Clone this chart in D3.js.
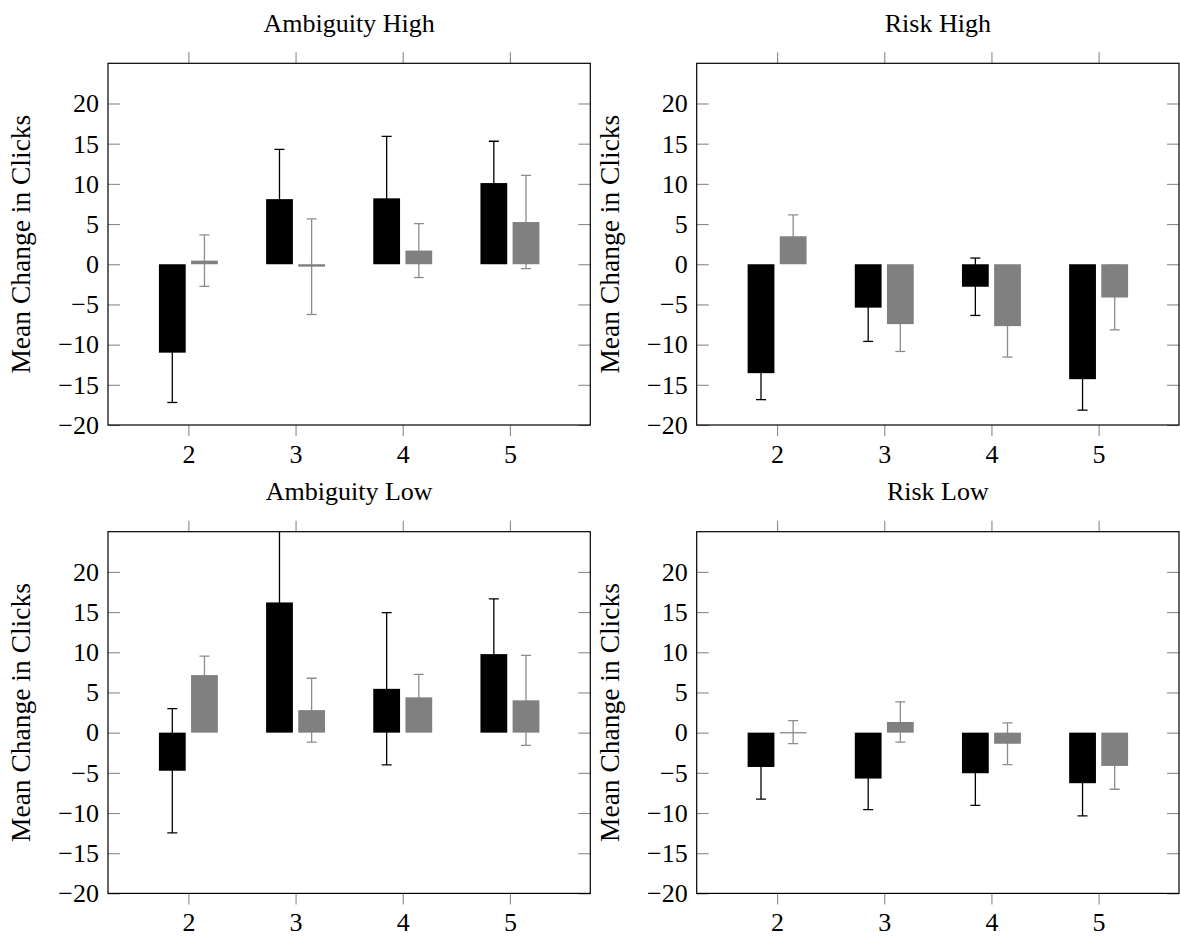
<!DOCTYPE html>
<html>
<head>
<meta charset="utf-8">
<script src="https://cdn.jsdelivr.net/npm/d3@7"></script>
<style>
  body { margin: 0; background: #fff; }
  text { font-family: "Liberation Serif", "Times New Roman", serif; fill: #000; }
</style>
</head>
<body>
<svg id="chart" width="1180" height="938"></svg>
<script>
// categories / ticks
const groups = [2, 3, 4, 5];
const yTicks = [-20, -15, -10, -5, 0, 5, 10, 15, 20];
const titles = ['Ambiguity High', 'Risk High', 'Ambiguity Low', 'Risk Low'];

// series values (black = first bar, grey = second bar), symmetric error half-widths
const ambHighBlack    = [-11.0, 8.1, 8.2, 10.1];
const ambHighBlackErr = [6.2, 6.2, 7.7, 5.2];
const ambHighGrey     = [0.45, -0.3, 1.7, 5.25];
const ambHighGreyErr  = [3.2, 5.95, 3.35, 5.8];

const riskHighBlack    = [-13.55, -5.4, -2.8, -14.3];
const riskHighBlackErr = [3.3, 4.2, 3.57, 3.85];
const riskHighGrey     = [3.48, -7.45, -7.7, -4.14];
const riskHighGreyErr  = [2.65, 3.4, 3.85, 4.02];

const ambLowBlack    = [-4.74, 16.2, 5.45, 9.77];
const ambLowBlackErr = [7.74, 10.0, 9.47, 6.88];
const ambLowGrey     = [7.16, 2.8, 4.39, 4.02];
const ambLowGreyErr  = [2.36, 3.97, 2.86, 5.6];

const riskLowBlack    = [-4.27, -5.71, -5.05, -6.29];
const riskLowBlackErr = [4.0, 3.86, 4.0, 4.06];
const riskLowGrey     = [0.06, 1.33, -1.38, -4.14];
const riskLowGreyErr  = [1.43, 2.5, 2.6, 2.9];

const panelData = [
  [ambHighBlack, ambHighBlackErr, ambHighGrey, ambHighGreyErr],
  [riskHighBlack, riskHighBlackErr, riskHighGrey, riskHighGreyErr],
  [ambLowBlack, ambLowBlackErr, ambLowGrey, ambLowGreyErr],
  [riskLowBlack, riskLowBlackErr, riskLowGrey, riskLowGreyErr]
];

// layout
const svg = d3.select('#chart');
const pw = 482.3, ph = 361.7;
const origins = [[108, 63.3], [696.7, 63.3], [108, 531.7], [696.7, 531.7]];
const fontSize = 26;
const tickColor = '#8a8a8a';

const x = d3.scaleLinear().domain([1.25, 5.75]).range([0, pw]);
const y = d3.scaleLinear().domain([-20, 25]).range([ph, 0]);
const barW = x(1.25 + 0.25) - x(1.25);
const shift = x(1.25 + 0.15) - x(1.25);
const capW = 5;

panelData.forEach((pd, i) => {
  const [ox, oy] = origins[i];
  const g = svg.append('g').attr('transform', `translate(${ox},${oy})`);

  const clipId = 'clip' + i;
  g.append('clipPath').attr('id', clipId)
    .append('rect').attr('width', pw).attr('height', ph);

  const series = [
    { vals: pd[0], errs: pd[1], off: -shift, fill: '#000', err: '#000' },
    { vals: pd[2], errs: pd[3], off: shift, fill: '#808080', err: '#8c8c8c' }
  ];

  const plot = g.append('g').attr('clip-path', `url(#${clipId})`);

  // error bars first (bars hide the inner part)
  series.forEach(s => {
    groups.forEach((k, j) => {
      const cx = x(k) + s.off;
      const lo = y(s.vals[j] - s.errs[j]), hi = y(s.vals[j] + s.errs[j]);
      const eg = plot.append('g').attr('stroke', s.err).attr('stroke-width', 1.3);
      eg.append('line').attr('x1', cx).attr('x2', cx).attr('y1', lo).attr('y2', hi);
      eg.append('line').attr('x1', cx - capW).attr('x2', cx + capW).attr('y1', lo).attr('y2', lo);
      eg.append('line').attr('x1', cx - capW).attr('x2', cx + capW).attr('y1', hi).attr('y2', hi);
    });
  });

  series.forEach(s => {
    plot.selectAll(null)
      .data(groups.map((k, j) => ({ k, v: s.vals[j] })))
      .join('rect')
        .attr('x', d => x(d.k) + s.off - barW / 2)
        .attr('width', barW)
        .attr('y', d => y(Math.max(0, d.v)))
        .attr('height', d => Math.max(1.2, Math.abs(y(d.v) - y(0))))
        .attr('fill', s.fill);
  });

  // axes
  const xb = g.append('g').attr('transform', `translate(0,${ph})`)
    .call(d3.axisBottom(x).tickValues(groups).tickSize(11).tickPadding(8.5).tickFormat(d3.format('d')));
  const xt = g.append('g')
    .call(d3.axisTop(x).tickValues(groups).tickSize(11).tickFormat(''));
  const yl = g.append('g')
    .call(d3.axisLeft(y).tickValues(yTicks).tickSize(-12).tickPadding(9));
  const yr = g.append('g').attr('transform', `translate(${pw},0)`)
    .call(d3.axisRight(y).tickValues(yTicks).tickSize(-12).tickFormat(''));

  [xb, xt, yl, yr].forEach(a => {
    a.select('.domain').remove();
    a.selectAll('.tick line').attr('stroke', tickColor).attr('stroke-width', 1.1);
    a.selectAll('.tick text')
      .attr('font-size', fontSize).attr('fill', '#000');
  });

  g.append('rect')
    .attr('width', pw).attr('height', ph)
    .attr('fill', 'none').attr('stroke', '#000').attr('stroke-width', 1.2);

  g.append('text')
    .attr('x', pw / 2).attr('y', -31.6)
    .attr('text-anchor', 'middle')
    .attr('font-size', fontSize)
    .text(titles[i]);

  g.append('text')
    .attr('transform', `translate(-78,${ph / 2}) rotate(-90)`)
    .attr('text-anchor', 'middle')
    .attr('font-size', 27.5)
    .text('Mean Change in Clicks');
});
</script>
</body>
</html>
